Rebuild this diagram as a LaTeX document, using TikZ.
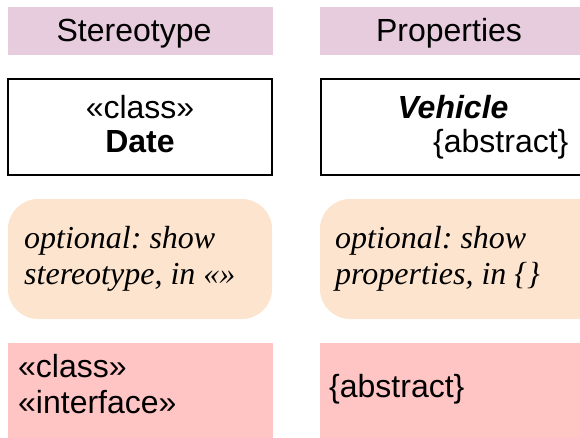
\documentclass[tikz,border=0pt]{standalone}
\usepackage{fontspec}
\setmainfont{Liberation Serif}
\setsansfont{Liberation Sans}
\definecolor{headc}{RGB}{230,204,220}
\definecolor{notec}{RGB}{253,228,206}
\definecolor{pinkc}{RGB}{255,196,196}
\frenchspacing
\begin{document}
\begin{tikzpicture}[x=1pt,y=-1pt,
  head/.style={fill=headc,draw=none},
  clsbox/.style={fill=white,draw=black,line width=2.5pt},
  notebox/.style={fill=notec,draw=none,rounded corners=30pt},
  pinkbox/.style={fill=pinkc,draw=none},
  sanstxt/.style={inner sep=0pt,font=\sffamily\fontsize{32}{36}\selectfont},
  seriftxt/.style={inner sep=0pt,font=\rmfamily\itshape\fontsize{32}{36}\selectfont}]
\useasboundingbox (0,0) rectangle (580,437);
\clip (0,0) rectangle (580,437);
% headers
\fill[head] (8,7) rectangle (273,55);
\fill[head] (320,7) rectangle (600,55);
\node[sanstxt,anchor=base] (h1) at (134,41) {Stereotype};
\node[sanstxt,anchor=base] (h2) at (449,41) {Properties};
% class boxes
\draw[clsbox] (8,79) rectangle (272,175);
\draw[clsbox] (321,79) rectangle (600,175);
\node[sanstxt,anchor=base] (c1) at (140,118) {«class»};
\node[sanstxt,anchor=base] (c2) at (140,152) {\bfseries Date};
\node[sanstxt,anchor=base] (v1) at (453,118) {\bfseries\itshape Vehicle};
\node[sanstxt,anchor=base west] (v2) at (433,152) {\{abstract\}};
% notes
\fill[notebox] (8,199) rectangle (272,319);
\fill[notebox] (320,199) rectangle (640,319);
\node[seriftxt,anchor=base west] (n1) at (24,248) {optional: show};
\node[seriftxt,anchor=base west] (n2) at (24,284) {stereotype, in «»};
\node[seriftxt,anchor=base west] (n3) at (335,248) {optional: show};
\node[seriftxt,anchor=base west] (n4) at (335,284) {properties, in \{\}};
% pink
\fill[pinkbox] (8,343) rectangle (273,440);
\fill[pinkbox] (320,343) rectangle (600,440);
\node[sanstxt,anchor=base west] (p1) at (18,377) {«class»};
\node[sanstxt,anchor=base west] (p2) at (18,413) {«interface»};
\node[sanstxt,anchor=base west] (p3) at (329,397) {\{abstract\}};
\end{tikzpicture}
\end{document}
